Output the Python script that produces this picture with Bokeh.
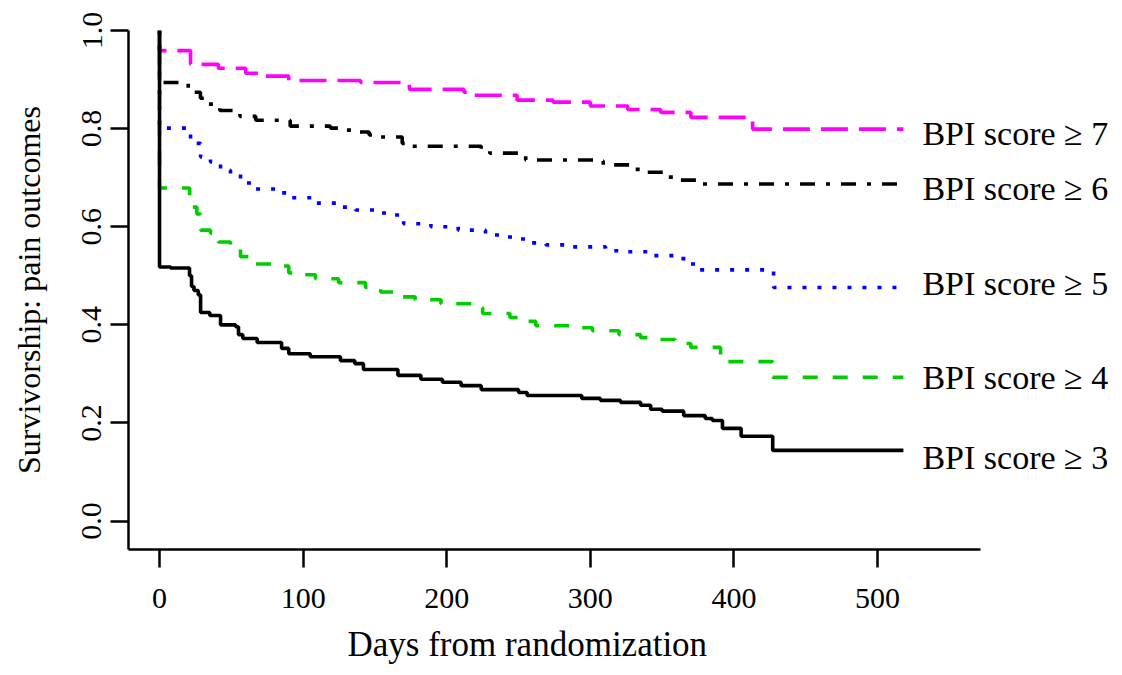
from bokeh.plotting import figure
from bokeh.models import Label, FixedTicker, PrintfTickFormatter, Range1d, Title
from bokeh.embed import file_html
from bokeh.resources import INLINE

# ---- data ----
days_7 = [0, 0, 21.6, 41, 60, 74, 90, 140, 174, 212, 217, 249, 274, 300, 326, 349, 370, 413, 518]
surv_7 = [1.0, 0.959, 0.931, 0.923, 0.913, 0.907, 0.898, 0.894, 0.880, 0.874, 0.868, 0.858, 0.854,
          0.846, 0.839, 0.833, 0.823, 0.799, 0.799]

days_6 = [0, 0, 20, 28.5, 34, 42, 56, 67, 91, 119, 130, 138, 146, 154, 169, 175, 224, 230, 251, 255,
          307, 309, 328, 335, 352, 359, 377, 518]
surv_6 = [1.0, 0.894, 0.874, 0.862, 0.850, 0.837, 0.825, 0.817, 0.805, 0.801, 0.797, 0.793, 0.787,
          0.783, 0.770, 0.764, 0.756, 0.750, 0.744, 0.736, 0.734, 0.726, 0.717, 0.711, 0.701, 0.695,
          0.687, 0.687]

days_5 = [0, 0, 21.6, 28.6, 35.5, 42.5, 49.4, 56.4, 64.8, 83, 91, 108.6, 126, 136.5, 154, 164, 170,
          189, 208, 227, 237.5, 248, 257, 269, 285, 310.6, 321, 342, 359, 368, 375, 427.6, 518]
surv_5 = [1.0, 0.801, 0.770, 0.742, 0.732, 0.715, 0.707, 0.689, 0.677, 0.669, 0.659, 0.648, 0.640,
          0.634, 0.628, 0.624, 0.606, 0.600, 0.593, 0.583, 0.579, 0.575, 0.567, 0.563, 0.559, 0.551,
          0.549, 0.541, 0.535, 0.524, 0.512, 0.476, 0.476]

days_4 = [0, 0, 21, 26, 28.6, 35.5, 41, 49.4, 56.4, 63, 84, 90, 100, 108.6, 124.7, 143.5, 154, 166,
          169, 178, 196, 220, 225, 244, 255, 262, 290, 301.5, 320, 335, 342, 359, 370, 390.7, 427, 518]
surv_4 = [1.0, 0.679, 0.640, 0.626, 0.593, 0.587, 0.569, 0.559, 0.539, 0.524, 0.520, 0.506, 0.502,
          0.494, 0.486, 0.476, 0.467, 0.463, 0.457, 0.451, 0.443, 0.435, 0.423, 0.415, 0.407, 0.398,
          0.394, 0.388, 0.380, 0.374, 0.370, 0.362, 0.354, 0.325, 0.293, 0.293]

days_3 = [0, 0, 7.7, 20.9, 22.3, 24, 27, 28.6, 35, 42.5, 53, 55, 58, 68, 85, 90, 105, 126, 136, 142,
          166, 182, 197, 210, 224, 250, 256, 294, 307, 321, 335, 342, 350, 365, 380, 385, 392, 405,
          427, 518]
surv_3 = [1.0, 0.518, 0.516, 0.500, 0.478, 0.470, 0.461, 0.425, 0.419, 0.400, 0.396, 0.380, 0.372,
          0.364, 0.352, 0.341, 0.335, 0.327, 0.321, 0.309, 0.297, 0.289, 0.283, 0.276, 0.268, 0.262,
          0.256, 0.250, 0.246, 0.242, 0.236, 0.228, 0.224, 0.215, 0.209, 0.205, 0.189, 0.173, 0.144,
          0.144]

series_labels = ["BPI score \u2265 7", "BPI score \u2265 6", "BPI score \u2265 5",
                 "BPI score \u2265 4", "BPI score \u2265 3"]
x_ticks = [0, 100, 200, 300, 400, 500]
y_ticks = [0.0, 0.2, 0.4, 0.6, 0.8, 1.0]

# ---- figure ----
FONT = "Liberation Serif"
X_AXIS_END = 571.7
p = figure(width=1114, height=675, output_backend="svg", toolbar_location=None,
           x_range=Range1d(-21.6, 665.0), y_range=Range1d(-0.058, 1.0),
           min_border_left=128, min_border_right=0, min_border_top=30, min_border_bottom=124)
p.outline_line_color = None
p.xgrid.visible = False
p.ygrid.visible = False
p.background_fill_color = "white"
p.border_fill_color = "white"

styles = [
    dict(color="#FF00FF", dash="27 11"),
    dict(color="black", dash="4 11 15 11"),
    dict(color="#0000FF", dash="4 11"),
    dict(color="#00CD00", dash="15 15"),
    dict(color="black", dash="solid"),
]
all_days = [days_7, days_6, days_5, days_4, days_3]
all_surv = [surv_7, surv_6, surv_5, surv_4, surv_3]
offsets = [-4, -4, 4, 0, -7]

for d, s, st, lab, off in zip(all_days, all_surv, styles, series_labels, offsets):
    p.step(d, s, mode="after", line_color=st["color"], line_width=3.6, line_dash=st["dash"])
    p.add_layout(Label(x=d[-1], y=s[-1], x_offset=19, y_offset=off, text=lab,
                       text_font=FONT, text_font_size="34px", text_color="black",
                       text_baseline="middle", text_align="left"))

for ax in (p.xaxis[0], p.yaxis[0]):
    ax.axis_line_width = 2.5
    ax.axis_line_color = "black"
    ax.major_tick_line_width = 2.5
    ax.major_tick_line_color = "black"
    ax.major_tick_out = 18
    ax.major_tick_in = 0
    ax.minor_tick_out = 0
    ax.minor_tick_in = 0
    ax.major_label_text_font = FONT
    ax.major_label_text_font_size = "30px"
    ax.major_label_text_color = "black"
    ax.axis_label_text_font = FONT
    ax.axis_label_text_font_style = "normal"
    ax.axis_label_text_color = "black"

p.xaxis.bounds = (-21.6, X_AXIS_END)
p.xaxis.ticker = FixedTicker(ticks=x_ticks)
p.yaxis.ticker = FixedTicker(ticks=y_ticks)
p.yaxis.formatter = PrintfTickFormatter(format="%.1f")
p.yaxis.major_label_orientation = "vertical"
p.yaxis.axis_label = "Survivorship: pain outcomes"
p.yaxis.axis_label_text_font_size = "32px"
p.xaxis.major_label_standoff = 21
p.yaxis.major_label_standoff = 9
p.yaxis.axis_label_standoff = 33

p.add_layout(Title(text="Days from randomization", align="left", offset=219,
                   text_font=FONT, text_font_size="35px", text_font_style="normal",
                   text_color="black", standoff=24), "below")

open("out.html", "w").write(file_html(p, INLINE))
